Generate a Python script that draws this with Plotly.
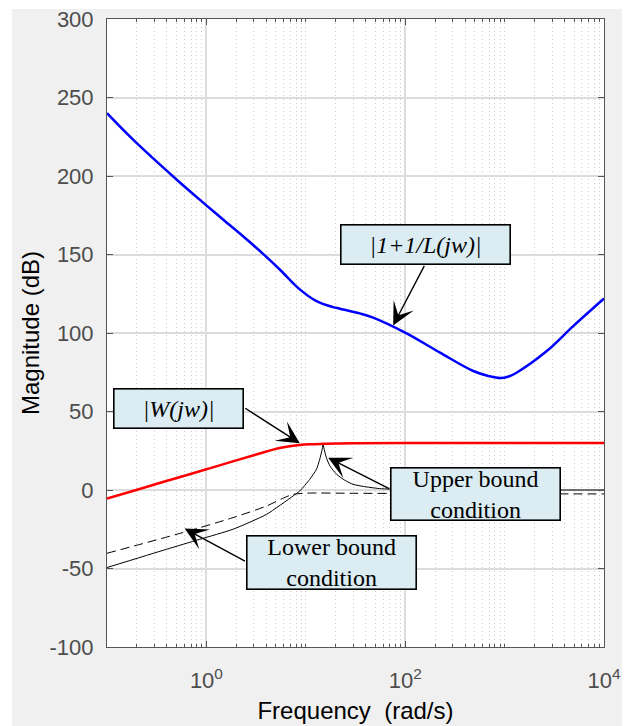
import plotly.graph_objects as go

# ---------------- data ----------------
freq_blue = [0.1, 0.182, 0.5, 1, 1.47, 2.4, 3.72, 5.6, 8.7, 12.8, 18.8, 22, 35, 47.6, 100, 224, 484, 700, 900, 1100, 1318, 2655, 4900, 10000]
mag_blue = [240, 223.3, 197.8, 181.3, 172.3, 161.0, 150.4, 139.8, 127.8, 120.3, 116.5, 115.5, 112.5, 109.8, 100.2, 87.5, 75.8, 72.5, 71.3, 72.3, 74.7, 88.5, 104.4, 122]

freq_red = [0.1, 0.182, 0.395, 1, 2.16, 3.5, 4.68, 6.0, 8.7, 11, 14.9, 20, 30, 100, 1000, 10000]
mag_red = [-5.5, -0.6, 5.7, 13.2, 19.5, 23.4, 25.7, 27.2, 28.6, 29.1, 29.4, 29.6, 29.7, 29.9, 30, 30]

freq_lower = [0.1, 0.395, 0.857, 1.85, 4.02, 7.45, 8.7, 10.96, 12.8, 13.8, 14.6, 14.9]
mag_lower = [-49.4, -37.8, -31.4, -25, -15.5, -3.8, -0.6, 6.8, 13.2, 19.5, 25.9, 29.1]

freq_upper = [14.9, 16.1, 17.5, 20.4, 24.7, 29.9, 37.8, 55, 100, 300, 1000, 10000]
mag_upper = [29.1, 20.6, 15.3, 10, 6.2, 3.6, 2.3, 0.9, 0.3, 0.1, 0, 0]

freq_dash = [0.1, 0.58, 1.85, 4.02, 6.0, 7.45, 10, 30, 100, 1000, 10000]
mag_dash = [-40.3, -27.1, -17.6, -10.2, -5.0, -2.8, -2.0, -2.1, -2.2, -2.4, -2.5]

y_ticks = [-100, -50, 0, 50, 100, 150, 200, 250, 300]
y_tick_text = ["-100", "-50", "0", "50", "100", "150", "200", "250", "300"]
x_major = [1, 100, 10000]
x_major_text = ["10<sup>0</sup>", "10<sup>2</sup>", "10<sup>4</sup>"]
x_minor = [k * 10.0 ** n for n in range(-1, 4) for k in range(1, 10)
           if not (k == 1 and n in (0, 2))]

# ---------------- figure ----------------
W, H = 629, 726
L, R, T, B = 107, 25, 19, 79
pw, ph = W - L - R, H - T - B

fig = go.Figure()
fig.add_trace(go.Scatter(x=freq_dash, y=mag_dash, mode="lines",
                         line=dict(color="black", width=1, dash="9px,5px", shape="spline", smoothing=0.8)))
fig.add_trace(go.Scatter(x=freq_lower, y=mag_lower, mode="lines",
                         line=dict(color="black", width=1, shape="spline", smoothing=0.6)))
fig.add_trace(go.Scatter(x=freq_upper, y=mag_upper, mode="lines",
                         line=dict(color="black", width=1, shape="spline", smoothing=0.6)))
fig.add_trace(go.Scatter(x=freq_red, y=mag_red, mode="lines",
                         line=dict(color="#ff0000", width=2.5, shape="spline", smoothing=1.0)))
fig.add_trace(go.Scatter(x=freq_blue, y=mag_blue, mode="lines",
                         line=dict(color="#0000ff", width=2.5, shape="spline", smoothing=1.0)))

# background: grey figure area with thin white border top/left/right
def px2paper_x(px):
    return (px - L) / pw

def px2paper_y(py):
    return (H - B - py) / ph

shapes = []
for (x0, y0, x1, y1) in [(0, 0, 12, H), (0, 0, W, 9), (622, 0, W, H)]:
    shapes.append(dict(type="rect", xref="paper", yref="paper",
                       x0=px2paper_x(x0), x1=px2paper_x(x1),
                       y0=px2paper_y(y1), y1=px2paper_y(y0),
                       fillcolor="white", line=dict(width=0), layer="below"))

box_fill = "#dbedf3"
serif = "Liberation Serif, Times New Roman, serif"
annotations = []

def box(xlog, yv, text, w, h):
    annotations.append(dict(x=xlog, y=yv, xref="x", yref="y", text=text, showarrow=False,
                            font=dict(family=serif, size=24, color="black"),
                            bgcolor=box_fill, bordercolor="black", borderwidth=1.6,
                            borderpad=0, width=w, height=h, align="center", valign="middle"))

def arrow(xt, yt, xh, yh):
    annotations.append(dict(x=xh, y=yh, xref="x", yref="y", ax=xt, ay=yt, axref="x", ayref="y",
                            text="", showarrow=True, arrowhead=3, arrowsize=2.7, arrowwidth=1.4,
                            arrowcolor="black", standoff=0, startstandoff=0))

arrow(2.2, 143.7, 1.879, 104.8)
arrow(0.376, 52.7, 0.94, 29.7)
arrow(1.853, 0.4, 1.225, 20.6)
arrow(0.403, -45.8, -0.219, -24.6)

box(2.2, 156.4, "<i>|1+1/L(jw)|</i>", 168, 38)
box(-0.279, 52.0, "<i>|W(jw)|</i>", 128, 38)
box(2.709, -2.7, "Upper bound<br>condition", 168, 51)
box(1.259, -46.0, "Lower bound<br>condition", 168, 52)

axis_col = "#555555"
sans = "Liberation Sans, Arial, sans-serif"
tick_font = dict(family=sans, size=22, color="#4d4d4d")

fig.update_layout(
    width=W, height=H,
    margin=dict(l=L, r=R, t=T, b=B, autoexpand=False),
    paper_bgcolor="#f0f0f0", plot_bgcolor="white",
    showlegend=False,
    shapes=shapes, annotations=annotations,
    xaxis=dict(type="log", range=[-1, 4], tickvals=x_major, ticktext=x_major_text,
               ticks="inside", ticklen=6, tickcolor=axis_col, tickwidth=1,
               showline=True, linecolor=axis_col, linewidth=1, mirror="allticks",
               showgrid=True, gridcolor="#dcdcdc", gridwidth=1.5,
               tickfont=tick_font, ticklabelstandoff=14,
               title=dict(text="Frequency\u00a0 (rad/s)", standoff=9,
                          font=dict(family=sans, size=24, color="black")),
               minor=dict(tickvals=x_minor, ticks="inside", ticklen=3, tickcolor=axis_col,
                          showgrid=True, gridcolor="#cccccc", griddash="1px,3px", gridwidth=1),
               zeroline=False, automargin=False),
    yaxis=dict(range=[-100, 300], tickvals=y_ticks, ticktext=y_tick_text,
               ticks="inside", ticklen=6, tickcolor=axis_col, tickwidth=1,
               showline=True, linecolor=axis_col, linewidth=1, mirror="allticks",
               showgrid=True, gridcolor="#dcdcdc", gridwidth=1.5,
               tickfont=tick_font, ticklabelstandoff=8,
               title=dict(text="Magnitude (dB)", standoff=3,
                          font=dict(family=sans, size=24, color="black")),
               zeroline=False, automargin=False),
)

fig.write_html("out.html")
